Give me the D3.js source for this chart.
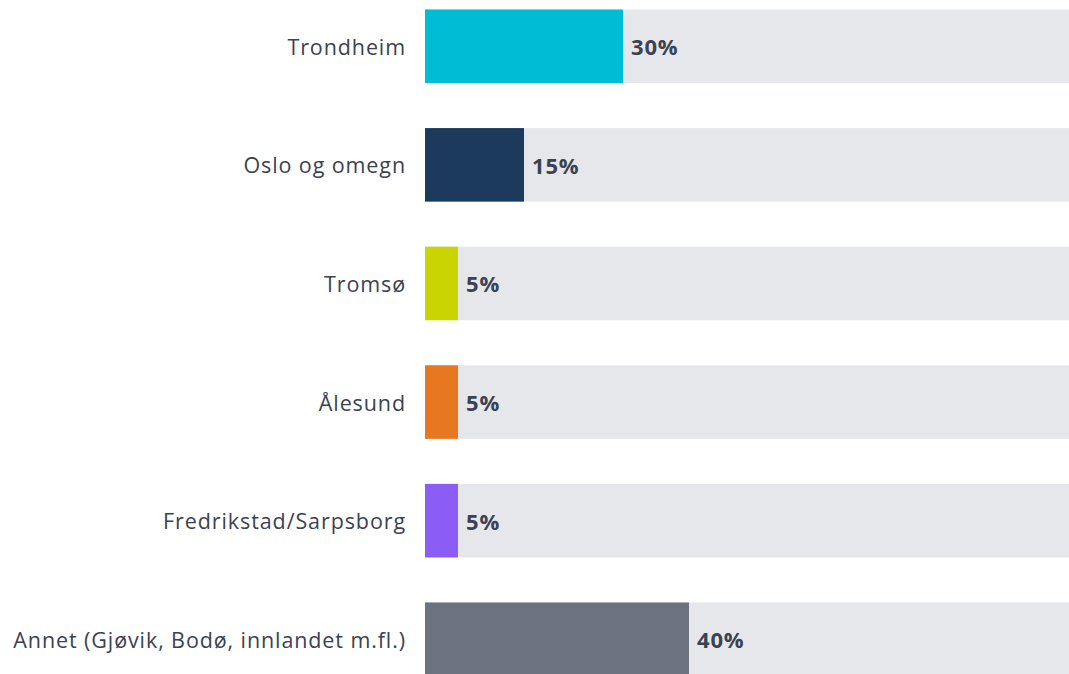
<!DOCTYPE html>
<html>
<head>
<meta charset="utf-8">
<script src="https://cdn.jsdelivr.net/npm/d3@7"></script>
<style>
  html, body { margin: 0; padding: 0; background: #fff; overflow: hidden; }
  svg { display: block; }
</style>
</head>
<body>
<div id="chart"></div>
<script>
'use strict'

// data
const categories = ["Trondheim", "Oslo og omegn", "Tromsø", "Ålesund", "Fredrikstad/Sarpsborg", "Annet (Gjøvik, Bodø, innlandet m.fl.)"];
const values = [30, 15, 5, 5, 5, 40];
const colors = ["#00bcd4", "#1c3a5b", "#c9d400", "#e87722", "#8b5cf6", "#6b7280"];

const width = 1069, height = 674;
const left = 425;

const svg = d3.select('#chart').append('svg')
  .attr('width', width)
  .attr('height', height);

// scales
const x = d3.scaleLinear().domain([0, 100]).range([left, left + 660]);
const y = d3.scaleBand().domain(categories).range([9.5, 676]).paddingInner(0.38).paddingOuter(0);

const rows = categories.map((c, i) => ({ cat: c, value: values[i], color: colors[i] }));

// background track
svg.selectAll('.track')
  .data(rows)
  .join('rect')
  .attr('class', 'track')
  .attr('x', x(0))
  .attr('y', d => y(d.cat))
  .attr('width', x(100) - x(0))
  .attr('height', y.bandwidth())
  .attr('fill', '#e5e7eb');

// bars
svg.selectAll('.bar')
  .data(rows)
  .join('rect')
  .attr('class', 'bar')
  .attr('x', x(0))
  .attr('y', d => y(d.cat))
  .attr('width', d => x(d.value) - x(0))
  .attr('height', y.bandwidth())
  .attr('fill', d => d.color);

// category labels
svg.selectAll('.cat-label')
  .data(rows)
  .join('text')
  .attr('class', 'cat-label')
  .attr('x', 406)
  .attr('y', d => y(d.cat) + y.bandwidth() / 2)
  .attr('text-anchor', 'end')
  .attr('dominant-baseline', 'central')
  .attr('font-family', '"Open Sans", Lato, sans-serif')
  .attr('font-size', 21.5)
  .attr('letter-spacing', 0.9)
  .attr('fill', '#3b4252')
  .text(d => d.cat);

// value labels
svg.selectAll('.val-label')
  .data(rows)
  .join('text')
  .attr('class', 'val-label')
  .attr('x', d => x(d.value) + 8)
  .attr('y', d => y(d.cat) + y.bandwidth() / 2)
  .attr('dominant-baseline', 'central')
  .attr('font-family', '"Open Sans", Lato, sans-serif')
  .attr('font-weight', 'bold')
  .attr('font-size', 22)
  .attr('letter-spacing', 0.8)
  .attr('fill', '#3b4252')
  .text(d => d.value + '%');
</script>
</body>
</html>
